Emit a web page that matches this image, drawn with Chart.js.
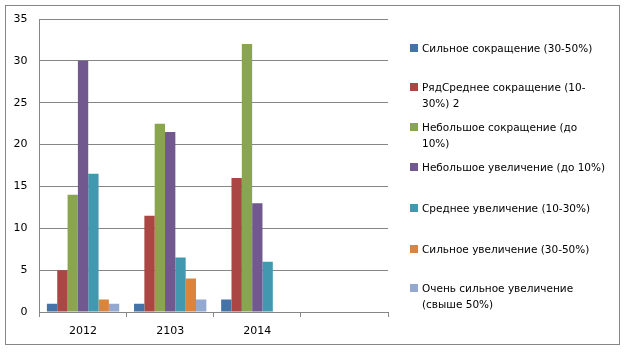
<!DOCTYPE html>
<html>
<head>
<meta charset="utf-8">
<script src="https://cdn.jsdelivr.net/npm/chart.js@4"></script>
<style>
  html, body { margin: 0; padding: 0; background: #fff; }
  #wrap { position: relative; width: 626px; height: 352px; }
  #frame { position: absolute; left: 5px; top: 5px; width: 615px; height: 340px; border: 1px solid #868686; box-sizing: border-box; }
  #chart { position: absolute; left: 0; top: 0; }
  .lg { position: absolute; left: 410px; font-family: "DejaVu Sans", sans-serif; font-size: 10.5px; line-height: 16px; color: #000; }
  .lg i { position: absolute; left: 0; top: 4px; width: 8px; height: 8px; }
  .lg span { display: block; margin-left: 12px; white-space: nowrap; }
</style>
</head>
<body>
<div id="wrap">
  <div id="frame"></div>
  <canvas id="chart" width="626" height="352"></canvas>
  <div id="legend"></div>
</div>
<script>
// категории и ряды
var years = ['2012', '2103', '2014', ''];
var seriesNames = [
  'Сильное сокращение (30-50%)',
  'РядСреднее сокращение (10-<br>30%) 2',
  'Небольшое сокращение (до<br>10%)',
  'Небольшое увеличение (до 10%)',
  'Среднее увеличение (10-30%)',
  'Сильное увеличение (30-50%)',
  'Очень сильное увеличение<br>(свыше 50%)'
];
var strongDrop   = [1, 1, 1.5, null];
var mediumDrop   = [5, 11.5, 16, null];
var smallDrop    = [14, 22.5, 32, null];
var smallRise    = [30, 21.5, 13, null];
var mediumRise   = [16.5, 6.5, 6, null];
var strongRise   = [1.5, 4, null, null];
var veryStrong   = [1, 1.5, null, null];
var yTicks = [0, 5, 10, 15, 20, 25, 30, 35];

var colors = ['#4572A7', '#AA4643', '#89A54E', '#71588F', '#4198AF', '#DB843D', '#93A9CF'];
var allSeries = [strongDrop, mediumDrop, smallDrop, smallRise, mediumRise, strongRise, veryStrong];
var legendY = [40, 79, 119, 159, 200, 241, 280];

var datasets = allSeries.map(function (d, i) {
  return {
    label: seriesNames[i].replace('<br>', ' '),
    data: d,
    backgroundColor: colors[i],
    borderWidth: 0,
    barPercentage: 1,
    categoryPercentage: 0.83
  };
});

var grid = '#868686';
new Chart(document.getElementById('chart').getContext('2d'), {
  type: 'bar',
  data: { labels: years, datasets: datasets },
  options: {
    responsive: false,
    animation: false,
    layout: { padding: { left: 0, top: 19, right: 238, bottom: 0 } },
    plugins: { legend: { display: false }, tooltip: { enabled: false } },
    scales: {
      x: {
        afterFit: function (s) { s.height = 40; },
        grid: { offset: true, drawOnChartArea: false, drawTicks: true, tickLength: 5, color: grid },
        border: { color: grid },
        ticks: { color: '#000', padding: 8, font: { family: 'DejaVu Sans', size: 11 } }
      },
      y: {
        min: 0, max: 35,
        afterFit: function (s) { s.width = 39.5; },
        afterBuildTicks: function (s) { s.ticks = yTicks.map(function (v) { return { value: v }; }); },
        grid: { color: grid, drawTicks: false },
        border: { color: grid },
        ticks: { color: '#000', padding: 12, font: { family: 'DejaVu Sans', size: 11 } }
      }
    }
  }
});

var lg = document.getElementById('legend');
seriesNames.forEach(function (name, i) {
  var el = document.createElement('div');
  el.className = 'lg';
  el.style.top = legendY[i] + 'px';
  el.innerHTML = '<i style="background:' + colors[i] + '"></i><span>' + name + '</span>';
  lg.appendChild(el);
});
</script>
</body>
</html>
